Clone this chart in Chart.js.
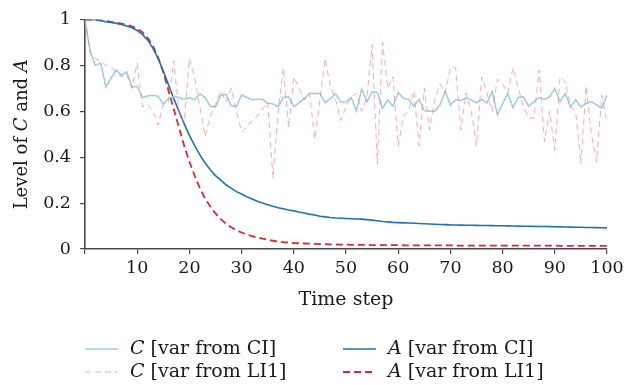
<!DOCTYPE html>
<html>
<head>
<meta charset="utf-8">
<script src="https://cdn.jsdelivr.net/npm/chart.js@4.4.1/dist/chart.umd.min.js"></script>
<style>
html,body{margin:0;padding:0;background:#fff;}
#wrap{position:relative;width:634px;height:385px;}
</style>
</head>
<body>
<div id="wrap"><canvas id="c" width="634" height="385"></canvas></div>
<script>
const steps = [0,1,2,3,4,5,6,7,8,9,10,11,12,13,14,15,16,17,18,19,20,21,22,23,24,25,26,27,28,29,30,31,32,33,34,35,36,37,38,39,40,41,42,43,44,45,46,47,48,49,50,51,52,53,54,55,56,57,58,59,60,61,62,63,64,65,66,67,68,69,70,71,72,73,74,75,76,77,78,79,80,81,82,83,84,85,86,87,88,89,90,91,92,93,94,95,96,97,98,99,100];

const C_CI = [1.0,0.86,0.80,0.81,0.706,0.745,0.78,0.757,0.772,0.706,0.709,0.66,0.667,0.67,0.665,0.632,0.656,0.665,0.66,0.652,0.66,0.65,0.676,0.66,0.622,0.619,0.669,0.674,0.624,0.622,0.671,0.66,0.65,0.652,0.652,0.635,0.632,0.62,0.66,0.663,0.62,0.637,0.656,0.678,0.678,0.678,0.637,0.656,0.676,0.64,0.64,0.66,0.602,0.697,0.642,0.685,0.682,0.613,0.65,0.622,0.682,0.656,0.652,0.622,0.652,0.602,0.6,0.6,0.628,0.687,0.627,0.65,0.647,0.659,0.65,0.637,0.652,0.637,0.687,0.585,0.634,0.678,0.616,0.66,0.663,0.622,0.642,0.66,0.652,0.663,0.7,0.642,0.678,0.619,0.65,0.619,0.634,0.642,0.628,0.613,0.67];

const C_LI1 = [1.0,0.85,0.83,0.82,0.8,0.79,0.77,0.75,0.76,0.70,0.81,0.62,0.63,0.60,0.54,0.63,0.64,0.82,0.6,0.55,0.83,0.75,0.62,0.49,0.58,0.63,0.69,0.64,0.70,0.6,0.51,0.53,0.56,0.58,0.61,0.64,0.31,0.6,0.79,0.53,0.75,0.70,0.65,0.68,0.48,0.65,0.83,0.71,0.65,0.56,0.62,0.66,0.68,0.6,0.66,0.89,0.37,0.9,0.7,0.75,0.45,0.58,0.6,0.69,0.45,0.7,0.52,0.65,0.72,0.68,0.79,0.79,0.52,0.68,0.6,0.45,0.75,0.68,0.6,0.74,0.72,0.68,0.79,0.7,0.62,0.57,0.57,0.78,0.47,0.6,0.43,0.75,0.73,0.62,0.6,0.37,0.71,0.5,0.38,0.67,0.55];

const A_CI = [1.0,1.0,0.999,0.995,0.99,0.987,0.983,0.978,0.972,0.964,0.952,0.935,0.91,0.875,0.83,0.775,0.715,0.655,0.6,0.545,0.495,0.45,0.41,0.375,0.345,0.32,0.3,0.28,0.265,0.25,0.24,0.228,0.218,0.208,0.2,0.193,0.186,0.18,0.175,0.17,0.166,0.161,0.157,0.152,0.148,0.143,0.14,0.137,0.135,0.134,0.133,0.132,0.131,0.13,0.128,0.126,0.123,0.12,0.118,0.116,0.115,0.114,0.113,0.112,0.111,0.11,0.109,0.108,0.107,0.106,0.105,0.1046,0.1042,0.1038,0.1034,0.103,0.1026,0.1022,0.1018,0.1014,0.101,0.1006,0.1002,0.0998,0.0994,0.099,0.0986,0.0982,0.0978,0.0974,0.097,0.0965,0.096,0.0955,0.095,0.0945,0.094,0.0935,0.093,0.0925,0.092];

const A_LI1 = [1.0,1.0,1.0,0.997,0.993,0.99,0.986,0.982,0.977,0.97,0.96,0.945,0.92,0.885,0.835,0.77,0.69,0.61,0.53,0.45,0.38,0.32,0.265,0.22,0.185,0.155,0.13,0.11,0.095,0.082,0.072,0.063,0.056,0.05,0.045,0.04,0.036,0.033,0.03,0.028,0.026,0.025,0.024,0.023,0.022,0.021,0.021,0.02,0.02,0.019,0.019,0.018,0.018,0.018,0.018,0.017,0.017,0.017,0.017,0.017,0.017,0.016,0.016,0.016,0.016,0.016,0.016,0.016,0.016,0.016,0.016,0.015,0.015,0.015,0.015,0.015,0.015,0.015,0.015,0.015,0.015,0.015,0.015,0.015,0.015,0.015,0.015,0.015,0.015,0.015,0.015,0.014,0.014,0.014,0.014,0.014,0.014,0.014,0.014,0.014,0.014];

const yTicks = [0,0.2,0.4,0.6,0.8,1];
const xTicks = [10,20,30,40,50,60,70,80,90,100];

const FONT = "'DejaVu Serif', 'Liberation Serif', serif";
const TICK_SIZE = 17.5;
const TEXT_SIZE = 19;
const AXIS_COLOR = '#4a4a4a';
const TEXT_COLOR = '#1a1a1a';

const series = [
  {letter:'C', rest:' [var from CI]', data:C_CI, color:'#9dcbe3', width:1.5, dash:[], col:0, row:0},
  {letter:'A', rest:' [var from CI]', data:A_CI, color:'#1f72b8', width:1.6, dash:[], col:1, row:0},
  {letter:'C', rest:' [var from LI1]', data:C_LI1, color:'rgba(240,120,120,0.6)', width:1, dash:[6,4], col:0, row:1},
  {letter:'A', rest:' [var from LI1]', data:A_LI1, color:'#e3242b', width:1.8, dash:[7,4], col:1, row:1}
];

function pts(arr){ return steps.map((s,i)=>({x:s, y:arr[i]})); }

const order = [2,0,1,3];
const datasets = order.map(i=>{
  const s = series[i];
  return {data:pts(s.data), borderColor:s.color, borderWidth:s.width, borderDash:s.dash,
    pointRadius:0, tension:0, fill:false};
});

function drawMixed(ctx, parts, x, y){
  let cx = x;
  for(const p of parts){
    ctx.font = (p.italic ? 'italic ' : '') + TEXT_SIZE + 'px ' + FONT;
    ctx.fillText(p.t, cx, y);
    cx += ctx.measureText(p.t).width;
  }
  return cx;
}
function measureMixed(ctx, parts){
  let w = 0;
  for(const p of parts){
    ctx.font = (p.italic ? 'italic ' : '') + TEXT_SIZE + 'px ' + FONT;
    w += ctx.measureText(p.t).width;
  }
  return w;
}

const decor = {
  id:'decor',
  afterDraw(chart){
    const ctx = chart.ctx;
    const area = chart.chartArea;
    ctx.save();
    ctx.fillStyle = TEXT_COLOR;
    ctx.textBaseline = 'middle';
    ctx.font = TEXT_SIZE + 'px ' + FONT;
    ctx.textAlign = 'center';
    ctx.fillText('Time step', (area.left+area.right)/2, 300);
    ctx.textAlign = 'left';
    const yParts = [{t:'Level of '},{t:'C',italic:true},{t:' and '},{t:'A',italic:true}];
    ctx.font = '18px ' + FONT;
    let w = 0;
    for(const p of yParts){ ctx.font = (p.italic?'italic ':'') + '18px ' + FONT; w += ctx.measureText(p.t).width; }
    ctx.translate(22, (area.top+area.bottom)/2);
    ctx.rotate(-Math.PI/2);
    let cx = -w/2;
    for(const p of yParts){ ctx.font = (p.italic?'italic ':'') + '18px ' + FONT; ctx.fillText(p.t, cx, 0); cx += ctx.measureText(p.t).width; }
    ctx.restore();

    ctx.save();
    ctx.fillStyle = TEXT_COLOR;
    ctx.textBaseline = 'middle';
    ctx.textAlign = 'left';
    const colX = [85, 343];
    const rowY = [349, 372];
    for(const s of series){
      const x0 = colX[s.col], y0 = rowY[s.row];
      ctx.beginPath();
      ctx.strokeStyle = s.color;
      ctx.lineWidth = s.width;
      ctx.setLineDash(s.dash);
      ctx.moveTo(x0, y0);
      ctx.lineTo(x0+33, y0);
      ctx.stroke();
      ctx.setLineDash([]);
      drawMixed(ctx, [{t:s.letter, italic:true},{t:s.rest}], x0+45, y0);
    }
    ctx.restore();
  }
};

new Chart(document.getElementById('c'), {
  type:'line',
  data:{datasets},
  options:{
    responsive:false,
    animation:false,
    layout:{padding:{top:19, right:27, bottom:0, left:0}},
    plugins:{legend:{display:false}, tooltip:{enabled:false}},
    scales:{
      x:{
        type:'linear', min:0, max:100,
        afterFit(scale){ scale.height = 136; },
        afterBuildTicks(scale){ scale.ticks = [{value:0}].concat(xTicks.map(v=>({value:v}))); },
        ticks:{color:TEXT_COLOR, font:{family:FONT, size:TICK_SIZE}, padding:4, maxRotation:0,
          callback:(v)=> v===0 ? '' : String(v)},
        grid:{display:true, drawOnChartArea:false, drawTicks:true, tickLength:5, color:AXIS_COLOR, lineWidth:1.2},
        border:{display:true, color:AXIS_COLOR, width:1.6}
      },
      y:{
        min:0, max:1,
        afterFit(scale){ scale.width = 85; },
        afterBuildTicks(scale){ scale.ticks = yTicks.map(v=>({value:v})); },
        ticks:{color:TEXT_COLOR, font:{family:FONT, size:TICK_SIZE}, padding:9,
          callback:(v)=> String(Math.round(v*10)/10)},
        grid:{display:true, drawOnChartArea:false, drawTicks:true, tickLength:5, color:AXIS_COLOR, lineWidth:1.2},
        border:{display:true, color:AXIS_COLOR, width:1.6}
      }
    }
  },
  plugins:[decor]
});
</script>
</body>
</html>
